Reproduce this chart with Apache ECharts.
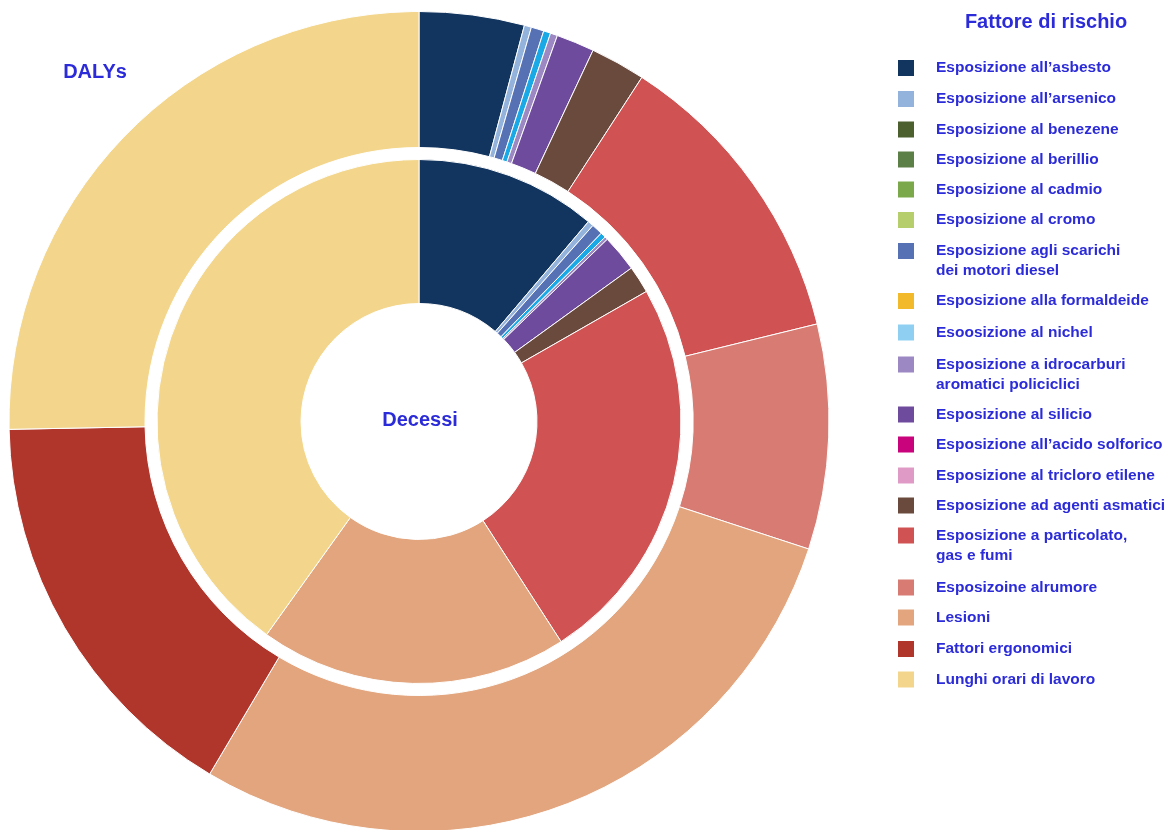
<!DOCTYPE html>
<html>
<head>
<meta charset="utf-8">
<script src="https://cdn.jsdelivr.net/npm/echarts@6/dist/echarts.min.js"></script>
<style>
html,body{margin:0;padding:0;background:#fff;}
#chart{width:1171px;height:830px;}
</style>
</head>
<body>
<div id="chart"></div>
<script>
// Categories (legend order)
const categories = [
  "Esposizione all’asbesto",
  "Esposizione all’arsenico",
  "Esposizione al benezene",
  "Esposizione al berillio",
  "Esposizione al cadmio",
  "Esposizione al cromo",
  "Esposizione agli scarichi\ndei motori diesel",
  "Esposizione alla formaldeide",
  "Esoosizione al nichel",
  "Esposizione a idrocarburi\naromatici policiclici",
  "Esposizione al silicio",
  "Esposizione all’acido solforico",
  "Esposizione al tricloro etilene",
  "Esposizione ad agenti asmatici",
  "Esposizione a particolato,\ngas e fumi",
  "Esposizoine alrumore",
  "Lesioni",
  "Fattori ergonomici",
  "Lunghi orari di lavoro"
];
// Outer ring: DALYs (share, %)
const dalys = [4.14, 0.28, 0, 0, 0, 0, 0.5, 0, 0.28, 0.28, 1.5, 0, 0, 2.17, 12.03, 8.86, 28.5, 16.17, 25.31];
// Inner ring: Decessi (share, %)
const decessi = [11.19, 0.36, 0, 0, 0, 0, 0.69, 0, 0.33, 0.19, 2.28, 0, 0, 1.69, 24.14, 0, 19.0, 0, 40.11];

const colors = ["#12355f", "#93b2dc", "#4b5f2f", "#5c7f48", "#7ba84b", "#b6cf6c", "#5672b4", "#f2b92b",
  "#19a9e6", "#9c88c2", "#6f4b9e", "#c8037b", "#df9bc5", "#6b4a3e", "#d05252", "#d77b73", "#e2a57d", "#b0362c", "#f3d68b"];
const legendIconColors = {8: "#8fd0f2"};

const iconCenters = [68, 99, 129.5, 159.5, 189.5, 220, 251, 301, 332.5, 364.5, 414.5, 444.5, 475.5, 505.5, 535.5, 587.5, 617.5, 649, 679.5];

const textColor = "#2b2bd9";
const font = "'Liberation Sans', Arial, sans-serif";

function makeData(vals) {
  return categories.map((n, i) => ({
    name: n,
    value: vals[i],
    itemStyle: {color: colors[i], borderWidth: vals[i] > 0 ? 1 : 0, borderColor: "#fff"}
  }));
}

const legends = categories.map((n, i) => {
  const twoLine = n.indexOf("\n") >= 0;
  const item = {name: n};
  if (legendIconColors[i]) item.itemStyle = {color: legendIconColors[i]};
  return {
    left: 898,
    top: twoLine ? iconCenters[i] - 30 : iconCenters[i] - 10,
    orient: "vertical",
    padding: 0,
    itemWidth: 16,
    itemHeight: 16,
    icon: "rect",
    selectedMode: false,
    itemStyle: {borderWidth: 0},
    data: [item],
    formatter: twoLine ? (name => "\n" + name) : (name => name),
    textStyle: {
      color: textColor, fontSize: 15.5, fontWeight: "bold", fontFamily: font,
      lineHeight: 20, padding: [0, 0, 0, 17]
    }
  };
});

const chart = echarts.init(document.getElementById("chart"));
chart.setOption({
  animation: false,
  backgroundColor: "#fff",
  legend: legends,
  graphic: [
    {type: "text", x: 1046, y: 22, style: {text: "Fattore di rischio", fill: textColor, font: "bold 20px " + font, textAlign: "center", textVerticalAlign: "middle"}},
    {type: "text", x: 95, y: 72, style: {text: "DALYs", fill: textColor, font: "bold 20px " + font, textAlign: "center", textVerticalAlign: "middle"}},
    {type: "text", x: 420, y: 420, style: {text: "Decessi", fill: textColor, font: "bold 20px " + font, textAlign: "center", textVerticalAlign: "middle"}}
  ],
  series: [
    {
      name: "DALYs", type: "pie", center: [419, 421.5], radius: [274, 410],
      startAngle: 90, clockwise: true, label: {show: false}, labelLine: {show: false},
      silent: true, emphasis: {disabled: true}, data: makeData(dalys)
    },
    {
      name: "Decessi", type: "pie", center: [419, 421.5], radius: [118, 262],
      startAngle: 90, clockwise: true, label: {show: false}, labelLine: {show: false},
      silent: true, emphasis: {disabled: true}, data: makeData(decessi)
    }
  ]
});
</script>
</body>
</html>
